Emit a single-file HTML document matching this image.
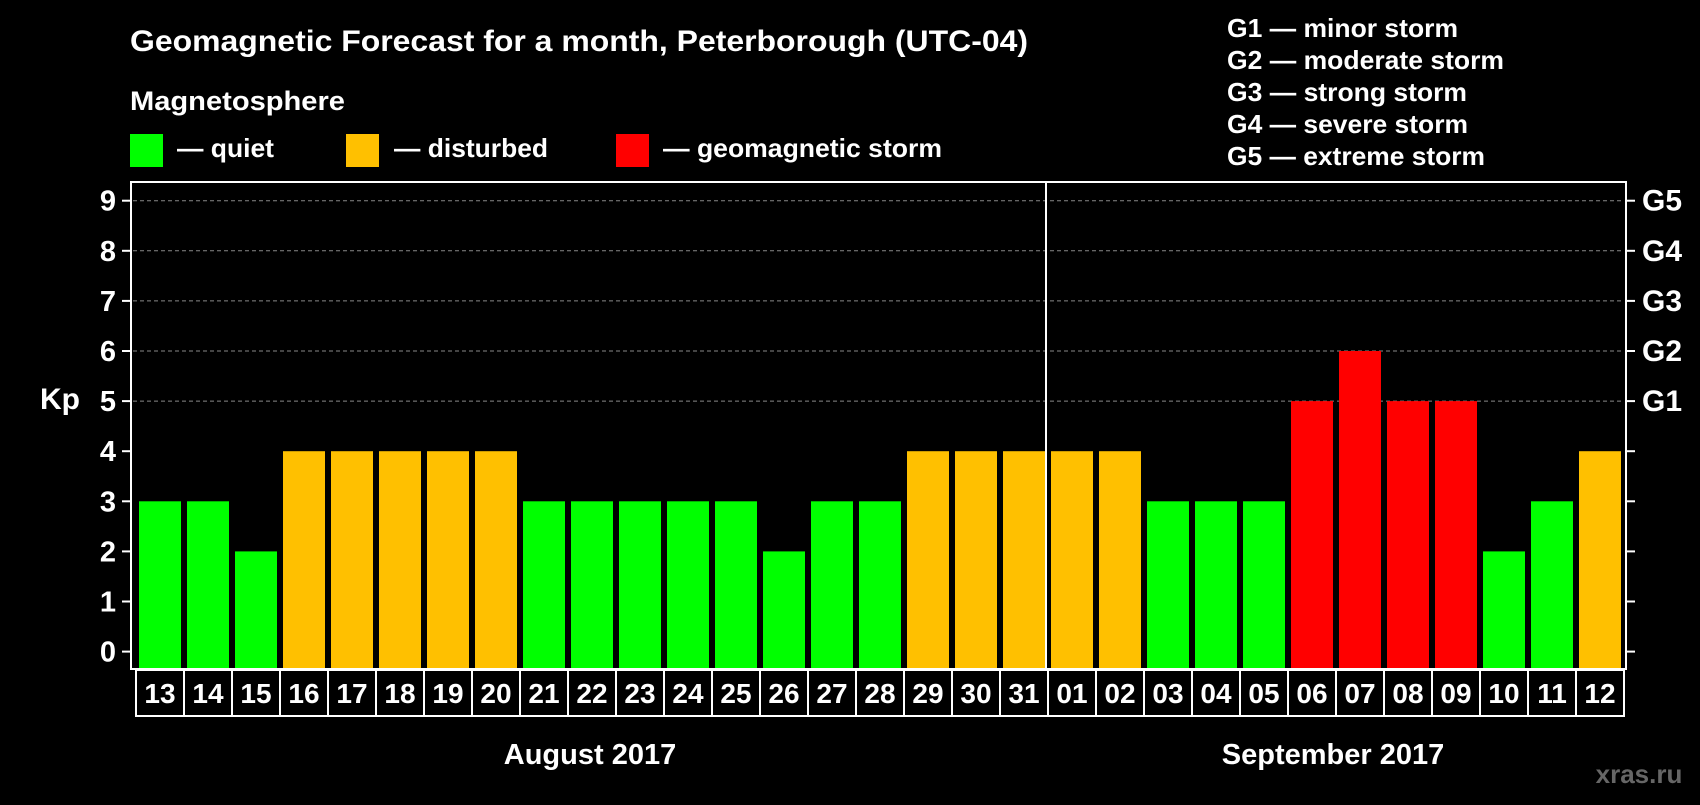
<!DOCTYPE html>
<html><head><meta charset="utf-8"><style>
body{margin:0;background:#000;width:1700px;height:800px;overflow:hidden;font-family:"Liberation Sans",sans-serif;font-weight:bold;color:#fff}
svg text{font-family:"Liberation Sans",sans-serif;font-weight:bold;fill:#fff}
</style></head><body>
<svg width="1700" height="800">
<text x="130" y="51" font-size="30" textLength="898" lengthAdjust="spacingAndGlyphs">Geomagnetic Forecast for a month, Peterborough (UTC-04)</text>
<text x="130" y="110" font-size="27" textLength="215" lengthAdjust="spacingAndGlyphs">Magnetosphere</text>
<rect x="130" y="134" width="33" height="33" fill="#00ff00"/>
<text x="177" y="157" font-size="26" textLength="97" lengthAdjust="spacingAndGlyphs">— quiet</text>
<rect x="346" y="134" width="33" height="33" fill="#ffc000"/>
<text x="394" y="157" font-size="26" textLength="154" lengthAdjust="spacingAndGlyphs">— disturbed</text>
<rect x="616" y="134" width="33" height="33" fill="#ff0000"/>
<text x="663" y="157" font-size="26" textLength="279" lengthAdjust="spacingAndGlyphs">— geomagnetic storm</text>
<g font-size="26">
<text x="1227" y="37" textLength="231" lengthAdjust="spacingAndGlyphs">G1 — minor storm</text>
<text x="1227" y="69" textLength="277" lengthAdjust="spacingAndGlyphs">G2 — moderate storm</text>
<text x="1227" y="101" textLength="240" lengthAdjust="spacingAndGlyphs">G3 — strong storm</text>
<text x="1227" y="133" textLength="241" lengthAdjust="spacingAndGlyphs">G4 — severe storm</text>
<text x="1227" y="165" textLength="258" lengthAdjust="spacingAndGlyphs">G5 — extreme storm</text>
</g>
<g id="grid"></g>
<g id="bars"></g>
<rect x="131" y="182" width="1495" height="487" fill="none" stroke="#fff" stroke-width="2"/>
<line x1="1046" y1="182" x2="1046" y2="669" stroke="#fff" stroke-width="2"/>
<g id="axes"></g>
<text x="60" y="409" font-size="30" text-anchor="middle">Kp</text>
<text x="590" y="764" font-size="29" text-anchor="middle">August 2017</text>
<text x="1333" y="764" font-size="29" text-anchor="middle">September 2017</text>
<text x="1639" y="783" font-size="26" text-anchor="middle" style="fill:#666">xras.ru</text>
</svg>
<script>
const days=["13","14","15","16","17","18","19","20","21","22","23","24","25","26","27","28","29","30","31","01","02","03","04","05","06","07","08","09","10","11","12"];
const kp=[3,3,2,4,4,4,4,4,3,3,3,3,3,2,3,3,4,4,4,4,4,3,3,3,5,6,5,5,2,3,4];
const yTicks=[0,1,2,3,4,5,6,7,8,9];
const gLabels=["G1","G2","G3","G4","G5"];
const NS="http://www.w3.org/2000/svg";
const y=v=>651.6-v*50.1;
const x=i=>139+i*48;
function mk(t,a,p){const e=document.createElementNS(NS,t);for(const k in a)e.setAttribute(k,a[k]);document.getElementById(p).appendChild(e);return e;}
yTicks.forEach(v=>{
 if(v>=5){const g=mk('line',{x1:133,x2:1624,y1:y(v),y2:y(v),stroke:'#888','stroke-dasharray':'4,3'},'grid');
 
 }
 const t1=mk('line',{x1:122,x2:131,y1:y(v),y2:y(v),stroke:'#fff','stroke-width':2},'axes');
 
 
 const t2=mk('line',{x1:1626,x2:1635,y1:y(v),y2:y(v),stroke:'#fff','stroke-width':2},'axes');
 
 
 const l=mk('text',{x:116,y:y(v)+10,'font-size':29,'text-anchor':'end'},'axes');l.textContent=v;
 
 
 if(v>=5){const g=mk('text',{x:1642,y:y(v)+10,'font-size':30},'axes');g.textContent=gLabels[v-5];
 
 }
});
kp.forEach((v,i)=>{
 const c=v>=5?'#ff0000':v>=4?'#ffc000':'#00ff00';
 const b=mk('rect',{x:x(i),y:y(v),width:42,height:669-y(v),fill:c},'bars');
 
 
 const r=mk('rect',{x:x(i)-3,y:670,width:48,height:46,fill:'none',stroke:'#fff','stroke-width':2},'axes');
 
 
 const t=mk('text',{x:x(i)+21,y:703,'font-size':28,'text-anchor':'middle'},'axes');t.textContent=days[i];
 
 
});
</script>
</body></html>
